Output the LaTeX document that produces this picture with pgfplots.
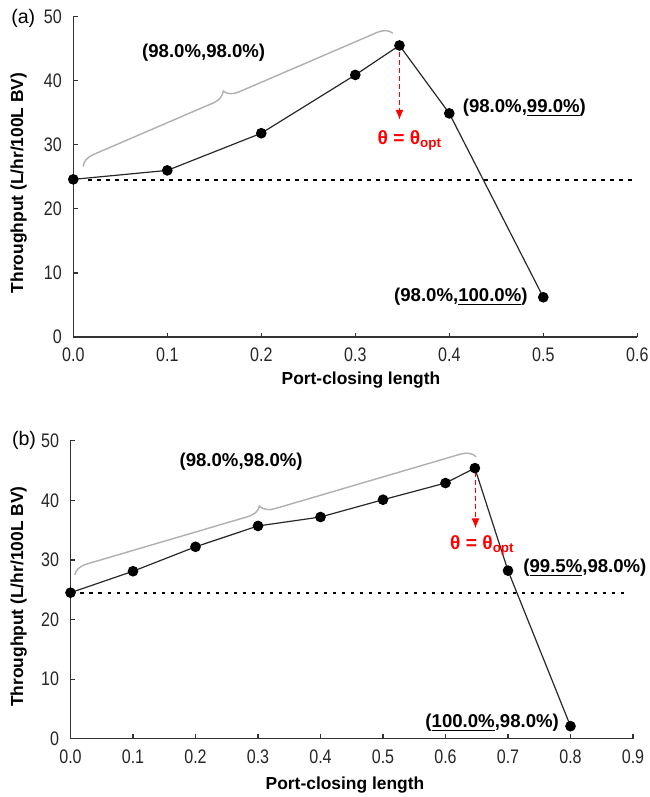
\documentclass[border=0pt]{standalone}
\usepackage{fontspec}
\setmainfont{Liberation Sans}
\usepackage{pgfplots}
\pgfplotsset{compat=1.18}
\usetikzlibrary{decorations.pathreplacing,arrows.meta}
\definecolor{braceg}{RGB}{175,175,175}
\definecolor{lineg}{RGB}{40,40,40}
\tikzset{
  ann/.style={font=\bfseries\fontsize{9.3}{11}\selectfont, inner sep=0pt},
  theta/.style={font=\bfseries\fontsize{9.6}{11}\selectfont, text=red, inner sep=0pt},
  redarrow/.style={red, line width=0.6pt, dash pattern=on 2.5pt off 1.5pt, -{Latex[length=5pt,width=4pt]}},
}
\pgfplotsset{
  panel/.style={
    scale only axis,
    anchor=south west,
    axis x line*=bottom, axis y line*=left,
    axis line style={line width=0.6pt, black!80},
    tick align=inside,
    major tick length=2.2pt,
    every tick/.style={black!80, line width=0.6pt},
    ymin=0, ymax=50, ytick={0,10,...,50},
    /pgf/number format/assume math mode=true,
    tick label style={font=\fontsize{9.8}{11}\selectfont, xscale=0.82, black!85},
    xticklabel style={yshift=-2pt, /pgf/number format/fixed, /pgf/number format/fixed zerofill, /pgf/number format/precision=1},
    yticklabel style={xshift=-3.5pt},
    label style={font=\bfseries\fontsize{8.7}{10}\selectfont},
    clip=false,
  },
  datal/.style={color=lineg, line width=0.6pt, mark=*, mark size=2.35pt, mark options={fill=black, draw=black}},
  refl/.style={black, line width=1.05pt, dash pattern=on 1.8pt off 2.7pt},
}
\begin{document}
\begin{tikzpicture}
\path[use as bounding box] (0,0) rectangle (324.5pt,-398.5pt);
% ---------------- (a)
\begin{axis}[panel,
  at={(36.65pt,-168.5pt)},
  width=282pt, height=160.2pt,
  xmin=0, xmax=0.6, xtick={0,0.1,...,0.6},
  xlabel={Port-closing length},
  ylabel={Throughput (L/hr/100L BV)},
  xlabel style={at={(axis description cs:0.51,-0.134)}, anchor=center},
  ylabel style={at={(axis description cs:-0.0968,0.481)}, anchor=center},
]
\addplot[refl] coordinates {(0.016,24.5) (0.597,24.5)};
\addplot[datal] coordinates {(0,24.6) (0.1,26.0) (0.2,31.8) (0.3,40.9) (0.347,45.5) (0.4,34.9) (0.5,6.2)};
\draw[braceg, line width=0.7pt, decorate, decoration={brace, amplitude=7pt, aspect=0.47}]
  (axis cs:0.0105,26.6) -- (axis cs:0.340,47.4);
\draw[redarrow] (axis cs:0.347,44.5) -- (axis cs:0.347,33.9);
\node[ann] at (axis cs:0.1387,44.4) {(98.0\%,98.0\%)};
\node[ann, anchor=west] at (axis cs:0.414,35.7) {(98.0\%,\underline{99.0\%})};
\node[ann, anchor=east] at (axis cs:0.4837,6.3) {(98.0\%,\underline{100.0\%})};
\node[theta] at (axis cs:0.358,30.75) {θ = θ\textsubscript{opt}};
\node[font=\fontsize{9.8}{11}\selectfont] at (rel axis cs:-0.0887,0.995) {(a)};
\end{axis}
% ---------------- (b)
\begin{axis}[panel,
  at={(35.25pt,-369.35pt)},
  width=281.25pt, height=149pt,
  xmin=0, xmax=0.9, xtick={0,0.1,...,0.9},
  xlabel={Port-closing length},
  ylabel={Throughput (L/hr/100L BV)},
  xlabel style={at={(axis description cs:0.488,-0.154)}, anchor=center},
  ylabel style={at={(axis description cs:-0.0921,0.4765)}, anchor=center},
]
\addplot[refl] coordinates {(0.016,24.4) (0.892,24.4)};
\addplot[datal] coordinates {(0,24.5) (0.1,28.1) (0.2,32.2) (0.3,35.7) (0.4,37.2) (0.5,40.1) (0.6,42.9) (0.647,45.4) (0.7,28.2) (0.8,2.1)};
\draw[braceg, line width=0.7pt, decorate, decoration={brace, amplitude=7pt, aspect=0.47}]
  (axis cs:0.007,27.5) -- (axis cs:0.649,47.3);
\draw[redarrow] (axis cs:0.648,44.8) -- (axis cs:0.648,35.3);
\node[ann] at (axis cs:0.273,46.5) {(98.0\%,98.0\%)};
\node[ann, anchor=west] at (axis cs:0.724,28.6) {(\underline{99.5\%},98.0\%)};
\node[ann, anchor=east] at (axis cs:0.782,2.7) {(\underline{100.0\%},98.0\%)};
\node[theta] at (axis cs:0.659,32.5) {θ = θ\textsubscript{opt}};
\node[font=\fontsize{9.8}{11}\selectfont] at (rel axis cs:-0.0827,1.002) {(b)};
\end{axis}
\end{tikzpicture}
\end{document}
